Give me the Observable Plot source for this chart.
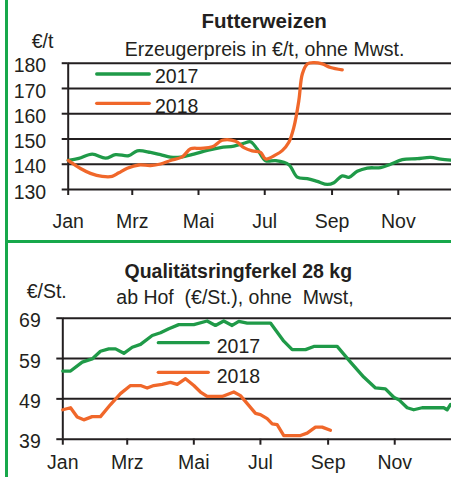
<!DOCTYPE html>
<html><head><meta charset="utf-8">
<script src="https://cdn.jsdelivr.net/npm/d3@7"></script>
<script src="https://cdn.jsdelivr.net/npm/@observablehq/plot@0.6"></script>
<style>
body{margin:0;background:#fff}
#wrap{position:relative;width:451px;height:477px;overflow:hidden;background:#fff;font-family:"Liberation Sans",Arial,sans-serif;color:#231f20}
.panel{position:absolute;left:0}
.overlay{position:absolute;left:0;top:0}
.bar{position:absolute;background:#17a84b}
</style></head>
<body><div id="wrap"></div>
<script>
// ---- data ----
const monthLabels = ["Jan","Mrz","Mai","Jul","Sep","Nov"];
const monthNums = [0,2,4,6,8,10];
const seriesNames = ["2017","2018"];

// Futterweizen (€/t), x = day of year
const weizenDays2017 = [0,9.8,22.1,34.4,43.6,55.8,63.6,75.8,85,94.2,103.5,115.7,128,140.3,152.6,161.8,167.9,174.1,181.8,191,203.2,211,220.2,229.4,238.6,244.7,252.4,258.5,266.2,275.4,287.7,296.9,307.7,321.5,333.8,343,352.2];
const weizen2017 = [141.5,142.3,144.0,142.4,143.8,143.4,145.3,144.7,143.8,142.8,142.8,144.0,145.5,146.6,147.2,148.3,148.9,146.0,141.4,141.4,139.8,134.9,134.3,133.2,132.0,132.7,135.4,134.8,137.2,138.5,138.7,140.0,141.8,142.2,142.7,142.0,141.6];
const weizenDays2018 = [0,11.3,20.5,31.3,40.5,46.6,54.4,65,75.8,85,94.2,105,112.7,121.9,132.7,141.9,154.1,161.8,169.5,177.2,181.8,191,197.1,203.2,207.8,212.4,215.6,220.2,226.3,234,241.6,252.4];
const weizen2018 = [141.5,138.3,136.4,135.2,135.2,136.6,138.4,139.7,139.5,140.1,141.5,142.9,146.1,146.3,146.9,149.5,149.1,146.6,145.3,144.7,142.1,143.7,145.4,148.7,154.6,165.2,175.7,179.7,180.2,179.7,178.3,177.4];
const weizenTicks = [130,140,150,160,170,180];

// Qualitätsringferkel 28 kg (€/St.)
const ferkelDays2017 = [0,7.1,17.8,26.9,34.5,42.1,48.3,55.9,63.6,71.2,81.9,89.5,97.1,106.2,120,132.2,139.8,147.4,155.1,161.2,168.9,190.2,202.4,210.1,222.3,229.9,251.3,263.5,275.6,286.4,295.5,303.1,307.7,315.4,321.4,329.1,348.9,352,355];
const ferkel2017 = [55.9,55.9,58.1,58.9,60.8,61.4,61.4,60.3,61.8,62.5,64.7,65.4,66.4,67.4,67.4,68.3,67.2,68.3,67.2,68.2,67.8,67.8,63.3,61.2,61.2,62.0,62.0,58.1,54.4,51.7,51.5,49.4,48.8,46.8,46.3,46.8,46.8,46.3,47.6];
const ferkelDays2018 = [0,7.1,13.2,19.2,26.9,34.5,43.7,52.8,62,71.2,77.3,83.3,91,98.6,104.8,112.4,120,126.1,132.2,146,156.6,162.7,170.3,176.5,181,187.2,191.8,196.3,202.4,217.7,223.8,231.4,237.5,245.1];
const ferkel2018 = [46.3,46.8,44.5,43.8,44.6,44.6,47.6,50.3,52.3,52.3,51.7,52.3,52.6,53.1,52.6,54.0,52.3,50.7,49.6,49.6,50.7,49.8,47.4,45.4,45.1,44.1,42.8,42.6,39.9,39.9,40.5,42.0,42.0,41.2];
const ferkelTicks = [39,49,59,69];

// ---- drawing ----
const INK = "#231f20", GREEN = "#1f9a48", ORANGE = "#f0672a";
const FONT = '"Liberation Sans", Arial, sans-serif';
const y0 = Date.UTC(2018,0,1);
const tickDays = monthNums.map(m => (Date.UTC(2018,m,1) - y0) / 864e5);
const labelOf = new Map(tickDays.map((d,i) => [d, monthLabels[i]]));
const rows = (days, vals) => days.map((d,i) => ({day:d, value:vals[i]}));

function panel({height, mt, mb, ml, xMax, ticks, a, b, curve, padX}) {
  return Plot.plot({
    width: 451, height, marginTop: mt, marginBottom: mb, marginLeft: ml, marginRight: 0,
    style: {fontFamily: FONT, fontSize: "19.5px", color: INK, background: "transparent", overflow: "visible"},
    x: {domain: [0, xMax], label: null},
    y: {domain: [ticks[0], ticks[ticks.length-1]], label: null},
    marks: [
      Plot.ruleY(ticks, {stroke: INK, strokeWidth: 2}),
      Plot.ruleX([0], {stroke: INK, strokeWidth: 2}),
      Plot.axisY(ticks, {tickSize: 6, tickFormat: () => "", stroke: INK, strokeWidth: 2, label: null}),
      Plot.axisY(ticks, {tickSize: 0, tickPadding: 22, dy: 3, fill: INK, label: null}),
      Plot.axisX(tickDays, {tickSize: 6, tickFormat: () => "", stroke: INK, strokeWidth: 2, label: null}),
      Plot.axisX(tickDays, {tickSize: 0, tickPadding: padX, tickFormat: d => labelOf.get(d), fill: INK, label: null}),
      Plot.line(a, {x: "day", y: "value", stroke: GREEN, strokeWidth: 3.3, curve, strokeLinejoin: "round", strokeLinecap: "round"}),
      Plot.line(b, {x: "day", y: "value", stroke: ORANGE, strokeWidth: 3.3, curve, strokeLinejoin: "round", strokeLinecap: "round"})
    ]
  });
}

const wrap = document.getElementById("wrap");
const top1 = panel({height: 240, mt: 62.7, mb: 51, ml: 67.7, xMax: 353, ticks: weizenTicks,
  a: rows(weizenDays2017, weizen2017), b: rows(weizenDays2018, weizen2018), curve: "catmull-rom", padX: 25});
top1.classList.add("panel"); top1.style.top = "0px";
wrap.appendChild(top1);

const bot = panel({height: 237, mt: 77.7, mb: 38.3, ml: 62.3, xMax: 356, ticks: ferkelTicks,
  a: rows(ferkelDays2017, ferkel2017), b: rows(ferkelDays2018, ferkel2018), curve: "linear", padX: 16});
bot.classList.add("panel"); bot.style.top = "240px";
wrap.appendChild(bot);

// borders
const vbar = document.createElement("div"); vbar.className = "bar";
Object.assign(vbar.style, {left: "5px", top: "0px", width: "2.5px", height: "477px"});
wrap.appendChild(vbar);
const hbar = document.createElement("div"); hbar.className = "bar";
Object.assign(hbar.style, {left: "5px", top: "240px", width: "446px", height: "2.5px"});
wrap.appendChild(hbar);

// titles, units, legends
const ov = d3.create("svg").attr("class", "overlay").attr("width", 451).attr("height", 477)
  .style("font-family", FONT).attr("fill", INK);
const texts = [
  {t: "Futterweizen", x: 264.2, y: 28.3, a: "middle", w: "bold", s: 20.5},
  {t: "Erzeugerpreis in €/t, ohne Mwst.", x: 264.5, y: 56, a: "middle", s: 19.5},
  {t: "€/t", x: 31.7, y: 48, a: "start", s: 19.5},
  {t: "Qualitätsringferkel 28 kg", x: 238.3, y: 277.5, a: "middle", w: "bold", s: 19.5},
  {t: "ab Hof  (€/St.), ohne  Mwst,", x: 235, y: 304, a: "middle", s: 19.5},
  {t: "€/St.", x: 26.7, y: 298.3, a: "start", s: 19.5}
];
for (const d of texts) {
  ov.append("text").attr("x", d.x).attr("y", d.y).attr("text-anchor", d.a)
    .attr("font-weight", d.w || "normal").attr("font-size", d.s)
    .style("white-space", "pre").attr("xml:space", "preserve").text(d.t);
}
const legends = [
  {x1: 96.7, x2: 149.3, ly: 74, tx: 155, ty: 83.3},
  {x1: 96.7, x2: 149.3, ly: 103.3, tx: 155, ty: 112.7},
  {x1: 158.3, x2: 208.3, ly: 342.7, tx: 216.7, ty: 353.3},
  {x1: 158.3, x2: 208.3, ly: 372.3, tx: 216.7, ty: 383.3}
];
legends.forEach((l, i) => {
  ov.append("line").attr("x1", l.x1).attr("x2", l.x2).attr("y1", l.ly).attr("y2", l.ly)
    .attr("stroke", i % 2 ? ORANGE : GREEN).attr("stroke-width", 3.3).attr("stroke-linecap", "round");
  ov.append("text").attr("x", l.tx).attr("y", l.ty).attr("font-size", 19.5).text(seriesNames[i % 2]);
});
wrap.appendChild(ov.node());
</script>
</body></html>
